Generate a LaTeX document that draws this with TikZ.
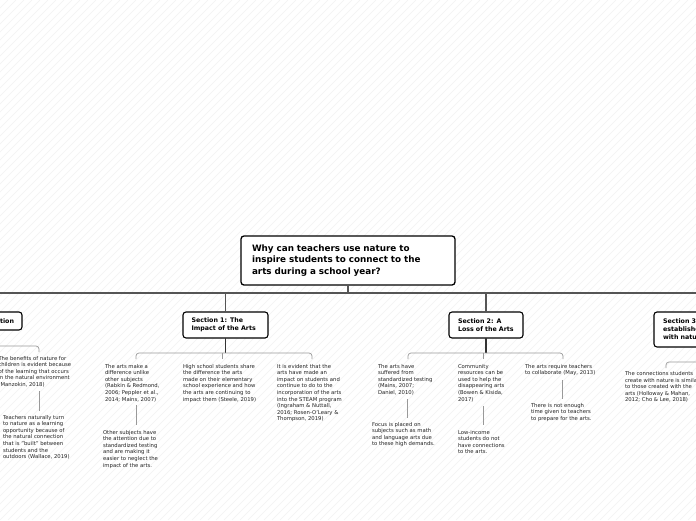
\documentclass[tikz,border=0pt]{standalone}
\usepackage{fontspec}
\setmainfont{DejaVu Sans}
\definecolor{barcol}{HTML}{555555}
\definecolor{seccol}{HTML}{333333}
\definecolor{brcol}{HTML}{999999}
\definecolor{txtcol}{HTML}{222222}
\definecolor{hatch}{HTML}{F2F2F2}
\begin{document}
\begin{tikzpicture}[x=1pt,y=-1pt,
  every node/.style={inner sep=0pt,outer sep=0pt},
  rootbox/.style={draw=black,line width=1.3pt,rounded corners=3pt,fill=white,
    font=\bfseries\fontsize{8.8}{11.3}\selectfont,align=left,anchor=north west,
    minimum width=214pt,minimum height=49pt,text width=192pt},
  secbox/.style={draw=black,line width=1.1pt,rounded corners=3pt,fill=white,
    font=\bfseries\fontsize{6.3}{8}\selectfont,align=left,anchor=north west},
  leaf/.style={font=\fontsize{5.3}{6.6}\selectfont,text=txtcol,align=left,anchor=north west},
  mainbar/.style={draw=barcol,line width=1.8pt},
  secline/.style={draw=seccol,line width=1.2pt},
  brline/.style={draw=brcol,line width=0.7pt,rounded corners=3pt},
  gline/.style={draw=brcol,line width=0.7pt}
]
\useasboundingbox (0,0) rectangle (696,520);
\clip (0,0) rectangle (696,520);
\fill[white] (0,0) rectangle (696,520);
% faint hatching
\foreach \i in {0,8,...,1224}{
  \draw[hatch,line width=0.4pt] (\i-520,520) -- (\i,0);
}
% root
\node[rootbox] (root) at (241,236) {Why can teachers use nature to\\inspire students to connect to the\\arts during a school year?};
% sections
\node[secbox,anchor=north east,minimum height=18pt,inner xsep=8pt] (s0) at (22,312) {Introduction};
\node[secbox,minimum width=85pt,minimum height=26pt,text width=68pt] (s1) at (183,312) {Section 1: The\\Impact of the Arts};
\node[secbox,minimum width=74pt,minimum height=26pt,text width=56pt] (s2) at (449,312) {Section 2: A\\Loss of the Arts};
\node[secbox,minimum width=140pt,minimum height=35pt,text width=122pt] (s3) at (654,312) {Section 3: Connections\\established\\with nature};
% main bar
\coordinate (barL) at (0,293);
\coordinate (barR) at (696,293);
\draw[mainbar] (barL) -- (barR);
\draw[mainbar] (root.south) -- (root.south |- barL);
\draw[mainbar] (s1.north) -- (s1.north |- barL);
\draw[mainbar] (s2.north) -- (s2.north |- barL);
% section 0 children
\node[leaf] (c01) at (-1.5,356) {The benefits of nature for\\children is evident because\\of the learning that occurs\\in the natural environment\\(Manzokin, 2018)};
\node[leaf] (g01) at (3,415) {Teachers naturally turn\\to nature as a learning\\opportunity because of\\the natural connection\\that is "built" between\\students and the\\outdoors (Wallace, 2019)};
\coordinate (b0a) at (-10,346);
\coordinate (b0b) at (39,352);
\draw[brline] (b0a) -| (b0b);
\coordinate (k0a) at (39,391);
\coordinate (k0b) at (39,411);
\draw[gline] (k0a) -- (k0b);
% section 1 children
\coordinate (j1) at (225.5,353);
\draw[secline] (s1.south) -- (j1);
\node[leaf] (c11) at (105,364) {The arts make a\\difference unlike\\other subjects\\(Rabkin \& Redmond,\\2006; Peppler et al.,\\2014; Mains, 2007)};
\node[leaf] (c12) at (183,364) {High school students share\\the difference the arts\\made on their elementary\\school experience and how\\the arts are continuing to\\impact them (Steele, 2019)};
\node[leaf] (c13) at (277,364) {It is evident that the\\arts have made an\\impact on students and\\continue to do to the\\incorporation of the arts\\into the STEAM program\\(Ingraham \& Nuttall,\\2016; Rosen-O'Leary \&\\Thompson, 2019)};
\node[leaf] (g11) at (103,430) {Other subjects have\\the attention due to\\standardized testing\\and are making it\\easier to neglect the\\impact of the arts.};
\coordinate (b1a) at (136,359);
\coordinate (b1b) at (312,359);
\coordinate (b1m) at (222,359);
\draw[brline] (b1a) |- (j1) -| (b1b);
\draw[gline] (b1m) -- (b1m |- j1);
\coordinate (k1a) at (136,405);
\coordinate (k1b) at (136,425);
\draw[gline] (k1a) -- (k1b);
% section 2 children
\coordinate (j2) at (486,353);
\draw[secline] (s2.south) -- (j2);
\node[leaf] (c21) at (378,364) {The arts have\\suffered from\\standardized testing\\(Mains, 2007;\\Daniel, 2010)};
\node[leaf] (c22) at (458,364) {Community\\resources can be\\used to help the\\disappearing arts\\(Bowen \& Kisida,\\2017)};
\node[leaf] (c23) at (525,364) {The arts require teachers\\to collaborate (May, 2013)};
\node[leaf] (g21) at (372,422) {Focus is placed on\\subjects such as math\\and language arts due\\to these high demands.};
\node[leaf] (g22) at (458,430) {Low-income\\students do not\\have connections\\to the arts.};
\node[leaf] (g23) at (531,403) {There is not enough\\time given to teachers\\to prepare for the arts.};
\coordinate (b2a) at (408,359);
\coordinate (b2b) at (563,359);
\coordinate (b2m) at (483,359);
\draw[brline] (b2a) |- (j2) -| (b2b);
\draw[gline] (b2m) -- (b2m |- j2);
\coordinate (k2a) at (407,399);
\coordinate (k2b) at (407,418);
\draw[gline] (k2a) -- (k2b);
\coordinate (k3a) at (483,406);
\coordinate (k3b) at (483,425);
\draw[gline] (k3a) -- (k3b);
\coordinate (k4a) at (562,380);
\coordinate (k4b) at (562,399);
\draw[gline] (k4a) -- (k4b);
% section 3 children
\node[leaf] (c31) at (625,371.5) {The connections students\\create with nature is similar\\to those created with the\\arts (Holloway \& Mahan,\\2012; Cho \& Lee, 2018)};
\coordinate (b3a) at (666,368);
\coordinate (b3b) at (710,362);
\draw[brline] (b3a) |- (b3b);
\end{tikzpicture}
\end{document}
